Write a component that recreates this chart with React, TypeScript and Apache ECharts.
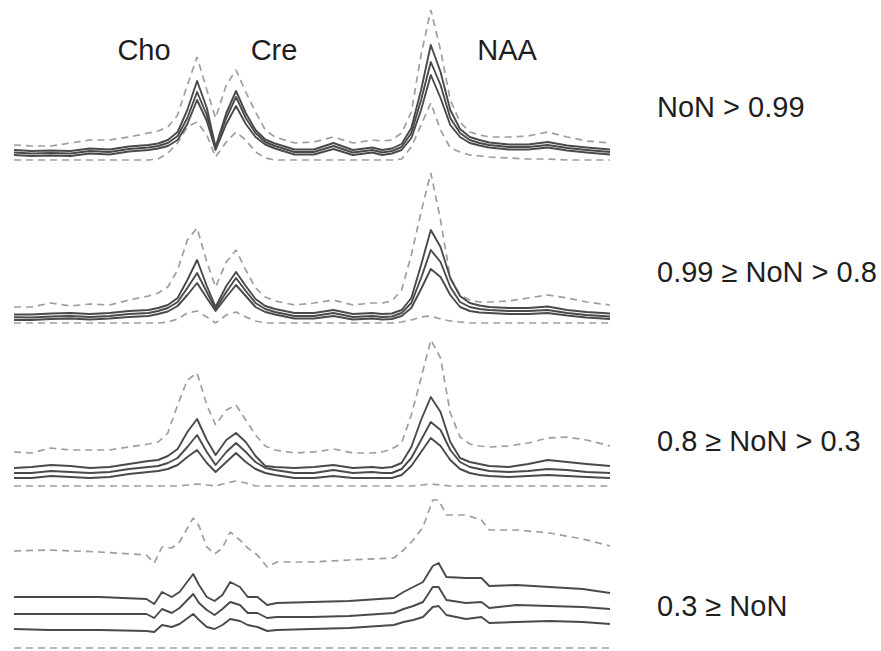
import React, { useEffect, useRef } from "react";
import * as echarts from "echarts";

// chemical shift (ppm) sampling for panels 1-3
const PPM = [4.14, 4.05, 3.95, 3.85, 3.75, 3.65, 3.55, 3.45, 3.40, 3.35, 3.30, 3.25, 3.20, 3.15, 3.105, 3.05, 3.00, 2.95, 2.90, 2.85, 2.80, 2.70, 2.60, 2.50, 2.40, 2.30, 2.25, 2.20, 2.15, 2.10, 2.05, 2.00, 1.95, 1.90, 1.85, 1.80, 1.75, 1.70, 1.60, 1.50, 1.40, 1.30, 1.20, 1.08];
// sampling for panel 4
const PPM4 = [4.14, 3.96, 3.70, 3.46, 3.42, 3.38, 3.33, 3.29, 3.22, 3.19, 3.15, 3.11, 3.07, 3.03, 2.98, 2.94, 2.89, 2.84, 2.79, 2.61, 2.42, 2.19, 2.14, 2.09, 2.04, 1.99, 1.96, 1.92, 1.82, 1.74, 1.70, 1.56, 1.39, 1.22, 1.08];

// Panel 1: NoN > 0.99
const P1_MAX = [15, 14, 14, 17, 20, 20, 23, 27, 29, 33, 45, 75, 103, 70, 42, 75, 90, 68, 48, 30, 23, 17, 18, 23, 17, 20, 19, 20, 27, 48, 105, 150, 110, 60, 38, 28, 25, 23, 23, 24, 28, 23, 19, 17];
const P1_HI = [10, 9, 9.5, 9, 11.5, 10.5, 13.5, 15, 16.5, 20, 28, 50, 79, 52, 13, 47, 69, 47, 30, 20.5, 16.5, 10.5, 10.5, 17, 10, 12.5, 10, 11.5, 16, 32, 70, 115, 88, 50, 31, 23, 20, 17.5, 15.5, 15.5, 18, 14.5, 12.5, 10.5];
const P1_MEAN = [7.5, 6.5, 7, 6.5, 9, 8, 11, 12.5, 14, 17, 24, 42, 68, 45, 12, 42, 63, 42, 27, 18, 14, 8, 8, 14, 7.5, 10, 7.5, 9, 13, 27, 60, 98, 75, 42, 27, 20, 17, 15, 13, 13, 15, 12, 10, 8];
const P1_LO = [5, 4, 4.5, 4, 6.5, 5.5, 8.5, 10, 11.5, 14, 20, 36, 60, 39, 10, 36, 54, 36, 23, 15.5, 11.5, 5.5, 5.5, 11, 5, 7.5, 5, 6.5, 10, 22, 50, 85, 62, 35, 23, 17, 14.5, 12.5, 10.5, 10.5, 12.5, 9.5, 7.5, 5.5];
const P1_MIN = [0, 0, 0, 0, 0, 0, 0, 0, 1, 7, 17, 33, 38, 25, 3, 18, 28, 20, 8, 2, 0, 0, 0, 0, 0, 0, 0, 0, 1, 13, 35, 57, 30, 12, 8, 5, 4, 3, 2, 1, 1, 0, 0, 0];

// Panel 2: 0.99 >= NoN > 0.8
const P2_MAX = [16, 16, 20, 17, 19, 18, 23, 27, 30, 36, 53, 83, 95, 61, 36, 61, 73, 53, 35, 26, 22, 18, 20, 23, 18, 20, 20, 22, 33, 68, 111, 150, 103, 45, 28, 23, 21, 21, 22, 25, 28, 25, 21, 18];
const P2_HI = [8.5, 8.5, 9.5, 10, 9, 10, 12, 13, 15, 18, 25, 43, 63, 37, 16, 37, 51, 37, 24, 17, 14, 10, 10, 13, 9, 10, 9, 9.5, 13, 25, 58, 93, 76, 45, 27, 20, 17.5, 16, 15, 15, 16.5, 13, 11, 9.5];
const P2_MEAN = [5.7, 5.5, 6.5, 7, 6, 7, 9, 10, 12, 15, 21, 35, 50, 31, 14, 31, 45, 32, 20, 14, 11, 7, 7, 10, 6, 7, 6, 6.5, 10, 20, 45, 73, 61, 36, 21, 16, 14, 13, 12, 12, 13, 10, 8, 6.5];
const P2_LO = [3, 3, 4, 4.5, 3.5, 4.5, 6, 7, 9, 11.5, 17, 28, 40, 25, 12, 26, 38, 27, 16, 11, 8.5, 4.5, 4.5, 7, 3.5, 4.5, 3.5, 4, 7, 15, 34, 54, 46, 28, 16, 12, 10.5, 10, 9, 9, 10, 7.5, 5.5, 4];
const P2_MIN = [0, 0, 0, 0, 0, 0, 0, 0, 0, 1, 4, 10, 12, 6, 0, 8, 11, 6, 2, 0, 0, 0, 0, 0, 0, 0, 0, 0, 1, 3, 6, 7, 4, 2, 1, 0, 0, 0, 0, 0, 0, 0, 0, 0];

// Panel 3: 0.8 >= NoN > 0.3
const P3_MAX = [34, 33, 38, 36, 36, 36, 39, 42, 44, 53, 81, 106, 113, 81, 61, 76, 81, 66, 51, 40, 36, 33, 34, 37, 33, 33, 34, 37, 43, 71, 108, 146, 128, 73, 49, 42, 40, 39, 40, 43, 48, 49, 46, 40];
const P3_HI = [18, 19, 21, 20, 18, 19, 22, 25, 26, 30, 37, 54, 67, 46, 31, 46, 53, 44, 30, 20, 19, 18, 19, 21, 18, 19, 18, 19, 23, 39, 66, 89, 74, 44, 28, 24, 22, 20, 19, 22, 26, 24, 22, 20];
const P3_MEAN = [13, 13, 15, 14, 13, 14, 17, 19, 20, 23, 28, 39, 51, 34, 21, 34, 43, 34, 24, 18, 16, 13, 13, 16, 13, 14, 13, 13, 17, 28, 46, 64, 56, 36, 24, 19, 17, 15, 14, 15, 17, 16, 14, 13];
const P3_LO = [8, 8, 10, 9, 8, 9, 12, 14, 15, 17, 21, 29, 36, 23, 14, 24, 33, 24, 17, 13, 11, 8, 8, 10, 8, 8, 8, 8, 11, 20, 34, 48, 40, 26, 17, 13, 11, 10, 9, 10, 11, 10, 9, 8];
const P3_MIN = [0, 0, 0, 0, 0, 0, 0, 0, 0, 0, 0, 1, 2, 1, 0, 3, 5, 3, 0, 0, 0, 0, 0, 0, 0, 0, 0, 0, 0, 0, 1, 2, 1, 0, 0, 0, 0, 0, 0, 0, 0, 0, 0, 0];

// Panel 4: 0.3 >= NoN
const P4_MAX = [97, 98, 96, 93, 85, 101, 100, 106, 130, 122, 101, 94, 100, 116, 108, 100, 93, 81, 86, 86, 88, 90, 98, 108, 121, 148, 148, 133, 133, 128, 118, 118, 115, 109, 102];
const P4_HI = [51, 51, 51, 49, 44, 56, 51, 56, 74, 63, 51, 47, 53, 66, 61, 51, 51, 43, 45, 46, 47, 50, 56, 61, 66, 82, 85, 71, 70, 70, 62, 63, 61, 59, 55];
const P4_MEAN = [34, 34, 34, 34, 30, 39, 35, 40, 54, 45, 38, 33, 39, 46, 43, 35, 35, 30, 31, 31, 32, 35, 39, 42, 46, 61, 61, 48, 45, 46, 40, 43, 42, 41, 39];
const P4_LO = [19, 18, 18, 17, 16, 23, 21, 24, 34, 28, 21, 19, 23, 29, 27, 23, 21, 17, 18, 19, 20, 23, 26, 28, 31, 41, 42, 33, 29, 31, 25, 26, 27, 26, 24];
const P4_MIN = [0, 0, 0, 0, 0, 0, 0, 0, 0, 0, 0, 0, 0, 0, 0, 0, 0, 0, 0, 0, 0, 0, 0, 0, 0, 0, 0, 0, 0, 0, 0, 0, 0, 0, 0];

const PANEL_LABELS = ["NoN > 0.99", "0.99 \u2265 NoN > 0.8", "0.8 \u2265 NoN > 0.3", "0.3 \u2265 NoN"];
const PEAK_LABELS = ["Cho", "Cre", "NAA"];

export default function App() {
  const ref = useRef<HTMLDivElement>(null);
  useEffect(() => {
    if (!ref.current) return;
    const chart = echarts.init(ref.current, undefined, { renderer: "svg" });

    const panels = [
      { x: PPM, lines: [P1_MIN, P1_MAX, P1_LO, P1_MEAN, P1_HI] },
      { x: PPM, lines: [P2_MIN, P2_MAX, P2_LO, P2_MEAN, P2_HI] },
      { x: PPM, lines: [P3_MIN, P3_MAX, P3_LO, P3_MEAN, P3_HI] },
      { x: PPM4, lines: [P4_MIN, P4_MAX, P4_LO, P4_MEAN, P4_HI] },
    ];
    const baselines = [160, 323, 486, 648];
    const yMax = 155;
    const yMin = -3;

    const grid: any[] = [];
    const xAxis: any[] = [];
    const yAxis: any[] = [];
    const series: any[] = [];

    panels.forEach((p, i) => {
      grid.push({ left: 14, width: 596, top: baselines[i] - yMax, height: yMax - yMin });
      xAxis.push({ type: "value", gridIndex: i, min: 1.08, max: 4.14, inverse: true, show: false });
      yAxis.push({ type: "value", gridIndex: i, min: yMin, max: yMax, show: false });
      p.lines.forEach((arr, k) => {
        const dashed = k < 2;
        series.push({
          type: "line",
          xAxisIndex: i,
          yAxisIndex: i,
          data: p.x.map((v, j) => [v, arr[j]]),
          showSymbol: false,
          symbol: "none",
          clip: false,
          silent: true,
          z: dashed ? 1 : 2,
          lineStyle: dashed
            ? { color: "#9e9e9e", width: 1.7, type: [7, 5] }
            : { color: "#4a4a4a", width: 1.9, join: "round" },
        });
      });
    });

    const font = '29px "Liberation Sans", Arial, sans-serif';
    const peakX = [144, 274, 507];
    const labelY = [107, 272, 441, 606];
    const graphic: any[] = [];
    PEAK_LABELS.forEach((t, i) => {
      graphic.push({
        type: "text",
        x: peakX[i],
        y: 50,
        style: { text: t, font, fill: "#1e1e1e", align: "center", verticalAlign: "middle", textAlign: "center", textVerticalAlign: "middle" },
      });
    });
    PANEL_LABELS.forEach((t, i) => {
      graphic.push({
        type: "text",
        x: 657,
        y: labelY[i],
        style: { text: t, font, fill: "#1e1e1e", align: "left", verticalAlign: "middle", textAlign: "left", textVerticalAlign: "middle" },
      });
    });

    chart.setOption({
      animation: false,
      backgroundColor: "#ffffff",
      grid,
      xAxis,
      yAxis,
      series,
      graphic,
    });
    return () => chart.dispose();
  }, []);
  return (
    <div
      ref={ref}
      style={{ position: "absolute", left: 0, top: 0, width: 881, height: 651 }}
    />
  );
}
